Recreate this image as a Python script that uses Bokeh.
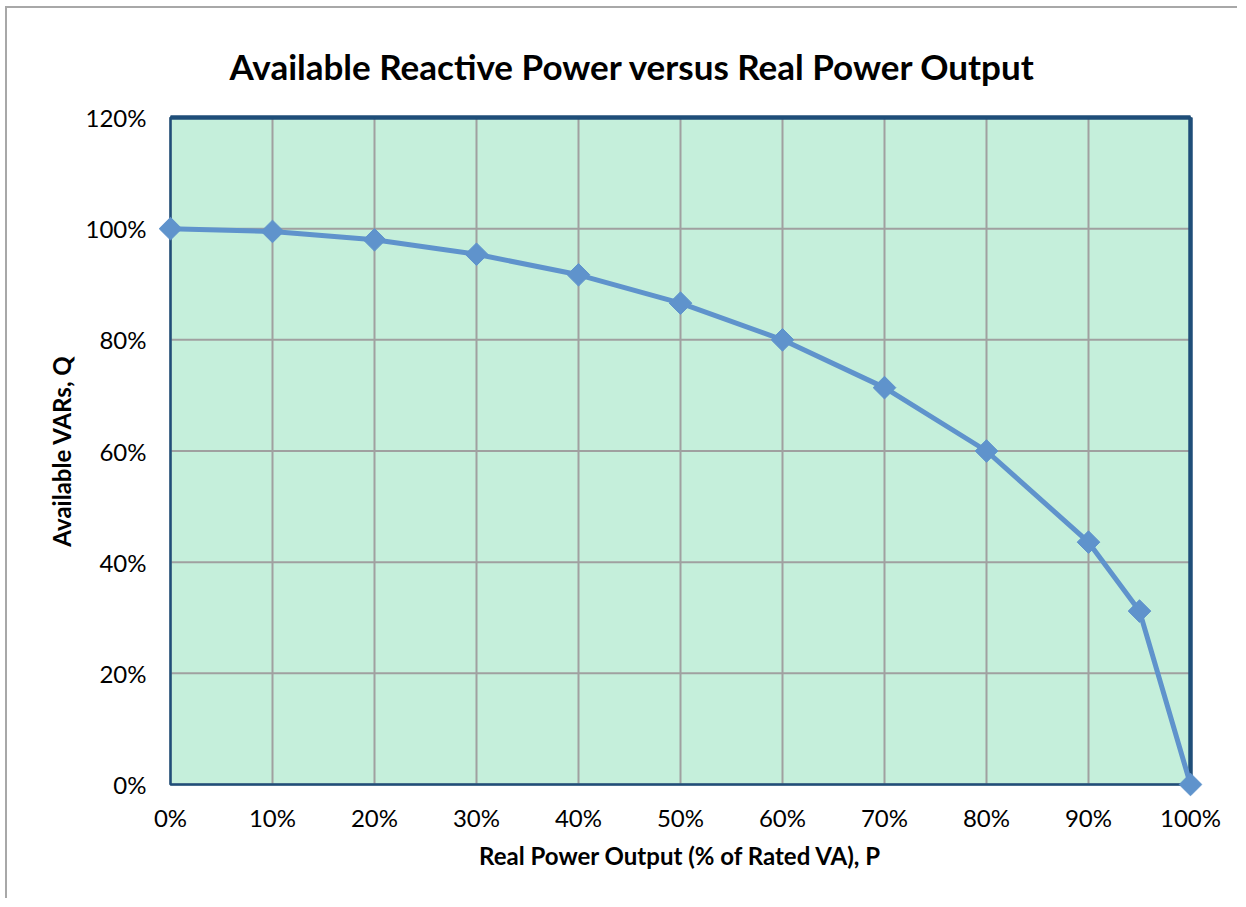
import math
from bokeh.plotting import figure
from bokeh.models import ColumnDataSource, NumeralTickFormatter, FixedTicker, Range1d
from bokeh.embed import file_html
from bokeh.resources import INLINE

# Data
real_power = [0.0, 0.10, 0.20, 0.30, 0.40, 0.50, 0.60, 0.70, 0.80, 0.90, 0.95, 1.00]
available_vars = [1.000, 0.995, 0.980, 0.954, 0.917, 0.866, 0.800, 0.714, 0.600, 0.436, 0.312, 0.0]
x_ticks = [0.0, 0.1, 0.2, 0.3, 0.4, 0.5, 0.6, 0.7, 0.8, 0.9, 1.0]
y_ticks = [0.0, 0.2, 0.4, 0.6, 0.8, 1.0, 1.2]

TITLE = "Available Reactive Power versus Real Power Output"
X_LABEL = "Real Power Output (% of Rated VA), P"
Y_LABEL = "Available VARs, Q"

FONT = "Lato"
GREEN = "#C5EFDB"
BORDER = "#1F4E79"
GRID = "#A0A0A0"
SERIES = "#5F93CC"

x0, x1 = x_ticks[0], x_ticks[-1]
y0, y1 = y_ticks[0], y_ticks[-1]
xpad = 12 / 1020 * (x1 - x0)
ypad = 12 / 667 * (y1 - y0)

src = ColumnDataSource(dict(x=real_power, y=available_vars))

p = figure(width=1232, height=892, output_backend="svg", toolbar_location=None,
           x_range=Range1d(x0 - xpad, x1 + xpad), y_range=Range1d(y0 - ypad, y1 + ypad),
           min_border_left=151, min_border_right=37, min_border_top=97, min_border_bottom=104)

p.title.text = TITLE
p.title.align = "left"
p.title.offset = 71
p.title.standoff = 38
p.title.text_font = FONT
p.title.text_font_style = "bold"
p.title.text_font_size = "35px"
p.title.text_color = "black"

p.background_fill_color = "white"
p.border_fill_color = "white"
p.outline_line_color = None
p.xgrid.visible = False
p.ygrid.visible = False

for ax in (p.xaxis[0], p.yaxis[0]):
    ax.axis_line_color = None
    ax.major_tick_line_color = None
    ax.minor_tick_line_color = None
    ax.major_label_text_font = FONT
    ax.major_label_text_font_size = "24px"
    ax.major_label_text_color = "black"
    ax.axis_label_text_font = FONT
    ax.axis_label_text_font_style = "bold"
    ax.axis_label_text_font_size = "24px"
    ax.axis_label_text_color = "black"
    ax.formatter = NumeralTickFormatter(format="0%")

p.xaxis[0].ticker = FixedTicker(ticks=x_ticks)
p.yaxis[0].ticker = FixedTicker(ticks=y_ticks)
p.xaxis[0].axis_label = X_LABEL
p.yaxis[0].axis_label = Y_LABEL
p.xaxis[0].major_label_standoff = 0
p.yaxis[0].major_label_standoff = 6
p.xaxis[0].axis_label_standoff = 6
p.yaxis[0].axis_label_standoff = 7

# plot-area fill
p.quad(left=[x0], right=[x1], bottom=[y0], top=[y1], fill_color=GREEN, line_color=None, level="image")

# grid lines
p.segment(x0=x_ticks, x1=x_ticks, y0=[y0] * len(x_ticks), y1=[y1] * len(x_ticks),
          line_color=GRID, line_width=2, level="underlay")
p.segment(x0=[x0] * len(y_ticks), x1=[x1] * len(y_ticks), y0=y_ticks, y1=y_ticks,
          line_color=GRID, line_width=2, level="underlay")

# plot-area border: thin left/bottom, heavier top/right
p.quad(left=[x0], right=[x1], bottom=[y0], top=[y1], fill_color=None, line_color=BORDER, line_width=2.5)
p.segment(x0=[x0, x1], x1=[x1, x1], y0=[y1, y1], y1=[y1, y0], line_color=BORDER, line_width=4.5)

p.line("x", "y", source=src, line_color=SERIES, line_width=5)
p.scatter("x", "y", source=src, marker="square", angle=math.pi / 4, size=16,
          fill_color=SERIES, line_color=SERIES)

p.styles = {"border": "none", "border-left": "2px solid #A8A8A8", "border-top": "2px solid #A8A8A8",
            "margin-left": "5px", "margin-top": "6px"}

open("out.html", "w").write(file_html(p, INLINE))
